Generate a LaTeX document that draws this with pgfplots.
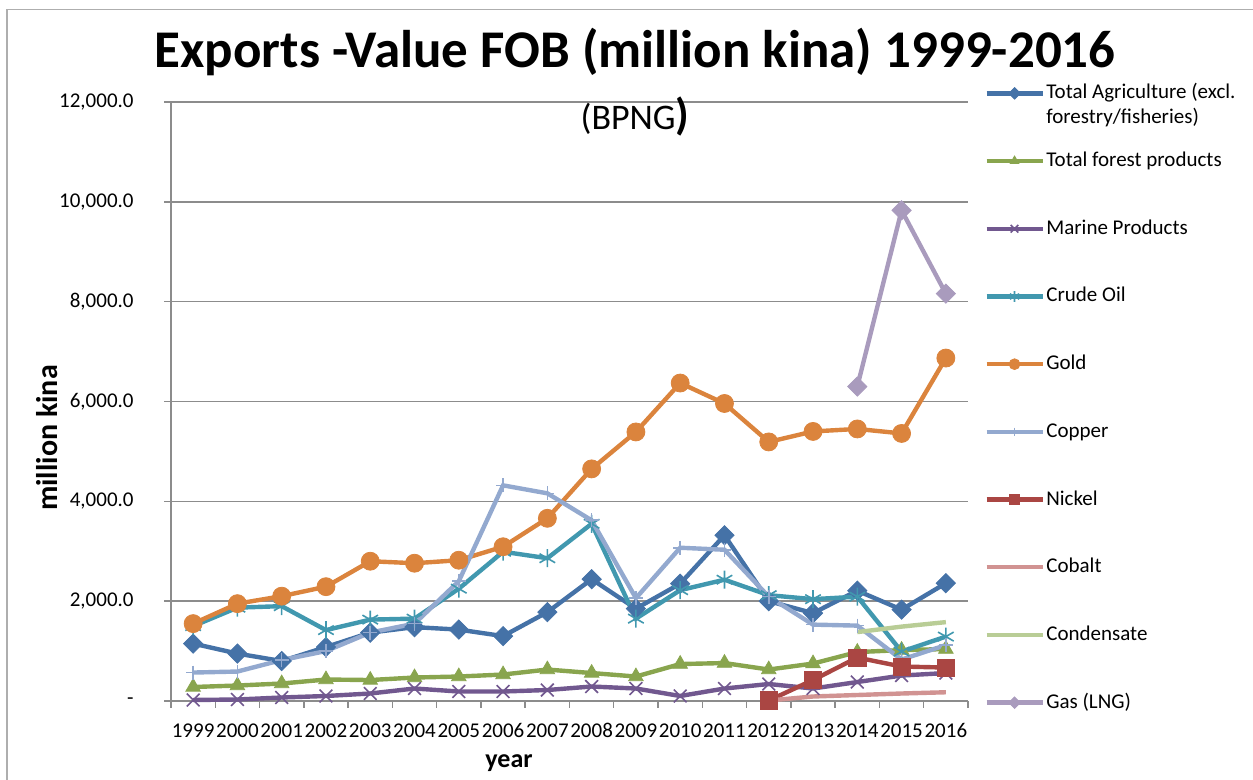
\documentclass[border=0pt]{standalone}
\usepackage{fontspec}
\setmainfont{Carlito}
\usepackage{pgfplots}
\pgfplotsset{compat=1.18}
\definecolor{cAgr}{HTML}{4572A7}
\definecolor{cFor}{HTML}{89A54E}
\definecolor{cMar}{HTML}{71588F}
\definecolor{cCru}{HTML}{4198AF}
\definecolor{cGol}{HTML}{DB843D}
\definecolor{cCop}{HTML}{93A9CF}
\definecolor{cNic}{HTML}{AA4643}
\definecolor{cCob}{HTML}{D19392}
\definecolor{cCon}{HTML}{B9CD96}
\definecolor{cGas}{HTML}{A99BBD}
\definecolor{axgray}{HTML}{8C8C8C}
\begin{document}
\begin{tikzpicture}
\useasboundingbox (-85.5pt,-39.5pt) rectangle (541pt,350.5pt);
\draw[axgray!70, line width=0.75pt] (-82pt,-39.5pt) -- (-82pt,345.7pt) -- (541pt,345.7pt);
\begin{axis}[
  at={(0pt,0pt)}, anchor=south west,
  width=398.5pt, height=299.5pt, scale only axis,
  xmin=1998.5, xmax=2016.5, ymin=0, ymax=12000,
  scaled y ticks=false, scaled x ticks=false,
  axis lines*=left,
  axis line style={draw=axgray, line width=0.75pt},
  ymajorgrids, grid style={draw=axgray, line width=0.75pt},
  ytick={0,2000,...,12000},
  yticklabels={-,{2,000.0},{4,000.0},{6,000.0},{8,000.0},{10,000.0},{12,000.0}},
  xtick={1998.5,1999.5,...,2016.5},
  xticklabels={},
  extra x ticks={1999,2000,...,2016},
  extra x tick labels={1999,2000,2001,2002,2003,2004,2005,2006,2007,2008,2009,2010,2011,2012,2013,2014,2015,2016},
  extra x tick style={major tick length=0pt},
  tick align=outside,
  major tick length=3.5pt,
  tick style={draw=axgray, line width=0.75pt},
  ticklabel style={font=\fontsize{10.5}{12}\selectfont, inner sep=0pt},
  yticklabel style={xshift=-15pt},
  xticklabel style={yshift=-11pt},
  clip=false,
  legend style={at={(1.0200,1.0326)}, anchor=north west, draw=none, fill=none,
    inner sep=0pt, row sep=23.35pt, column sep=0.8pt,
    font=\fontsize{10.5}{12.5}\selectfont,
    nodes={inner sep=0pt, text height=8pt, text depth=2.5pt}},
  legend cell align=left,
  legend image code/.code={\draw[mark repeat=2,mark phase=2,#1,every mark/.append style={scale=0.6}] plot coordinates {(0pt,0pt) (14pt,0pt) (28pt,0pt)};},
]
\addplot[color=cAgr, line width=2.2pt, mark=square*, mark size=3.4pt, mark options={rotate=45, solid, line width=0.4pt, fill=cAgr}] coordinates {
(1999,1150) (2000,950) (2001,800) (2002,1080) (2003,1370) (2004,1480) (2005,1430) (2006,1300) (2007,1780) (2008,2440) (2009,1850) (2010,2350) (2011,3320) (2012,2000) (2013,1760) (2014,2210) (2015,1830) (2016,2360)};
\addlegendentry{\smash{\begin{tabular}[t]{@{}l@{}}Total Agriculture (excl.\\forestry/fisheries)\end{tabular}}}
\addplot[color=cFor, line width=2.2pt, mark=triangle*, mark size=4.2pt, mark options={solid, line width=0.4pt, fill=cFor}] coordinates {
(1999,280) (2000,310) (2001,350) (2002,430) (2003,420) (2004,470) (2005,490) (2006,530) (2007,630) (2008,560) (2009,490) (2010,740) (2011,760) (2012,630) (2013,750) (2014,980) (2015,1020) (2016,1040)};
\addlegendentry{Total forest products}
\addplot[color=cMar, line width=2.2pt, mark=x, mark size=4.5pt, mark options={solid, line width=0.8pt}] coordinates {
(1999,20) (2000,30) (2001,70) (2002,100) (2003,150) (2004,250) (2005,190) (2006,190) (2007,220) (2008,290) (2009,250) (2010,100) (2011,250) (2012,340) (2013,250) (2014,380) (2015,510) (2016,560)};
\addlegendentry{Marine Products}
\addplot[color=cCru, line width=2.2pt, mark=asterisk, mark size=4.5pt, mark options={solid, line width=0.8pt}] coordinates {
(1999,1500) (2000,1870) (2001,1900) (2002,1420) (2003,1630) (2004,1650) (2005,2250) (2006,2990) (2007,2860) (2008,3550) (2009,1650) (2010,2220) (2011,2430) (2012,2120) (2013,2040) (2014,2090) (2015,990) (2016,1290)};
\addlegendentry{Crude Oil}
\addplot[color=cGol, line width=2.2pt, mark=*, mark size=4.5pt, mark options={solid, line width=0.4pt, fill=cGol}] coordinates {
(1999,1550) (2000,1950) (2001,2100) (2002,2290) (2003,2800) (2004,2760) (2005,2820) (2006,3090) (2007,3660) (2008,4650) (2009,5390) (2010,6370) (2011,5960) (2012,5190) (2013,5400) (2014,5450) (2015,5360) (2016,6870)};
\addlegendentry{Gold}
\addplot[color=cCop, line width=2.2pt, mark=+, mark size=3.5pt, mark options={solid, line width=0.8pt}] coordinates {
(1999,570) (2000,590) (2001,820) (2002,1000) (2003,1370) (2004,1550) (2005,2400) (2006,4320) (2007,4160) (2008,3620) (2009,2060) (2010,3070) (2011,3030) (2012,2090) (2013,1530) (2014,1510) (2015,830) (2016,1120)};
\addlegendentry{Copper}
\addplot[color=cNic, line width=2.2pt, mark=square*, mark size=4.3pt, mark options={solid, line width=0.4pt, fill=cNic}] coordinates {
(2012,10) (2013,420) (2014,870) (2015,690) (2016,670)};
\addlegendentry{Nickel}
\addplot[color=cCob, line width=2.2pt, no markers] coordinates {
(2012,10) (2013,90) (2014,120) (2015,150) (2016,175)};
\addlegendentry{Cobalt}
\addplot[color=cCon, line width=2.2pt, no markers] coordinates {
(2014,1380) (2015,1490) (2016,1580)};
\addlegendentry{Condensate}
\addplot[color=cGas, line width=2.2pt, mark=square*, mark size=3.4pt, mark options={rotate=45, solid, line width=0.4pt, fill=cGas}] coordinates {
(2014,6300) (2015,9830) (2016,8160)};
\addlegendentry{Gas (LNG)}
\end{axis}
\node[anchor=base, font=\bfseries\fontsize{26.5}{30}\selectfont] at (232pt,316.5pt) {Exports -Value FOB (million kina) 1999-2016};
\node[anchor=base, font=\fontsize{18}{20}\selectfont] at (232pt,285.5pt) {(BPNG{\bfseries\fontsize{22}{24}\selectfont )}};
\node[rotate=90, font=\bfseries\fontsize{15}{18}\selectfont] at (-62pt,131.5pt) {million kina};
\node[anchor=base, font=\bfseries\fontsize{13}{15}\selectfont] at (169pt,-33.5pt) {year};
\end{tikzpicture}
\end{document}
